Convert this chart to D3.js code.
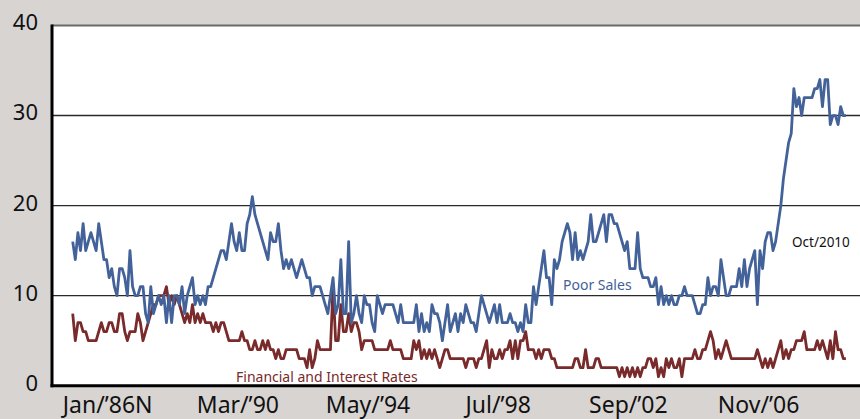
<!DOCTYPE html>
<html>
<head>
<meta charset="utf-8">
<script src="https://cdn.jsdelivr.net/npm/d3@7"></script>
<style>
  html, body { margin: 0; padding: 0; background: #d8d4d1; }
  svg { display: block; }
  text { font-family: "Noto Sans", "Open Sans", sans-serif; }
</style>
</head>
<body>
<svg id="chart" width="860" height="419"></svg>
<script>
// Monthly series, Jan 1986 .. Oct 2010 (percent)
const poorSales = [
  16,14,17,15,18,15,16,17,16,15,
  18,16,14,14,12,13,11,10,13,13,
  12,10,15,11,10,10,11,11,8,7,
  11,8,9,10,9,10,7,10,7,10,
  10,9,11,8,10,11,12,9,10,9,
  10,9,11,11,12,13,14,15,15,14,
  16,18,16,15,17,15,15,18,19,21,
  19,18,17,16,15,14,17,16,16,18,
  15,13,14,13,14,13,12,13,14,13,
  12,12,10,11,11,11,10,9,8,10,
  12,8,9,14,8,8,16,7,8,10,
  8,7,10,9,9,7,6,10,9,8,
  9,9,9,9,8,7,9,7,7,7,
  7,7,9,6,8,6,7,6,9,8,
  8,7,5,7,9,6,7,8,6,8,
  7,9,8,7,7,6,8,10,9,8,
  7,8,9,7,9,7,7,7,8,7,
  7,6,7,6,9,7,7,11,9,11,
  13,15,12,12,9,14,13,14,16,17,
  18,17,14,17,14,15,14,15,16,19,
  16,16,17,18,19,16,19,19,18,18,
  17,16,15,16,13,13,13,17,13,12,
  12,12,11,11,12,9,11,9,10,9,
  10,9,9,10,10,11,10,10,10,9,
  8,8,9,9,12,10,11,11,10,14,
  12,10,10,11,11,11,13,11,14,11,
  13,14,15,9,15,13,16,17,17,15,
  16,18,20,23,25,27,28,33,31,32,
  30,32,32,32,32,33,33,34,31,34,
  34,29,30,30,29,31,30,30
];
const financialRates = [
  8,5,7,7,6,6,5,5,5,5,
  6,7,6,6,7,7,6,6,8,8,
  6,5,6,6,6,8,7,5,6,7,
  8,9,9,10,10,10,11,9,10,9,
  10,9,8,7,8,7,9,7,8,7,
  8,7,7,7,6,7,6,7,7,6,
  5,5,5,5,5,6,5,5,4,4,
  5,4,4,5,4,5,4,4,3,4,
  3,3,4,4,4,4,4,3,3,3,
  2,4,2,3,5,4,4,4,4,4,
  11,5,5,9,6,6,8,6,7,7,
  6,4,5,5,5,5,4,4,4,4,
  4,4,5,4,4,4,4,3,3,3,
  3,5,4,5,3,4,3,4,3,4,
  3,2,3,4,4,3,3,3,3,3,
  3,2,3,3,3,2,3,3,4,5,
  2,4,3,3,4,3,4,4,5,3,
  5,3,5,5,6,4,4,4,3,4,
  3,4,4,4,3,3,2,2,2,2,
  2,2,2,3,3,2,2,4,2,2,
  2,3,3,2,2,2,2,2,2,2,
  1,2,1,2,1,2,1,2,1,2,
  2,3,3,2,3,1,2,1,3,2,
  3,2,2,3,1,3,3,3,3,4,
  3,3,4,4,5,6,5,3,4,3,
  4,5,4,3,3,3,3,3,3,3,
  3,3,3,4,3,2,3,2,3,2,
  3,4,5,3,4,3,4,4,5,5,
  5,6,4,4,4,4,5,4,5,4,
  3,5,3,6,4,4,3,3
];
const xTickIndex = [0, 50, 100, 150, 200, 250];
const xTickLabels = ["Jan/\u201986N", "Mar/\u201990", "May/\u201994", "Jul/\u201998", "Sep/\u201902", "Nov/\u201906"];
const yTicks = [0, 10, 20, 30, 40];
const seriesLabels = { sales: "Poor Sales", fin: "Financial and Interest Rates", last: "Oct/2010" };

const W = 860, H = 419;
const plot = { left: 52, right: 860, top: 25.5, bottom: 385.7 };
const svg = d3.select("#chart");

const x = d3.scaleLinear().domain([0, poorSales.length - 1]).range([72.7, 845.9]);
const y = d3.scaleLinear().domain([0, 40]).range([plot.bottom, plot.top]);

// background
svg.append("rect").attr("width", W).attr("height", H).attr("fill", "#d8d4d1");
svg.append("rect").attr("x", plot.left).attr("y", plot.top)
  .attr("width", plot.right - plot.left).attr("height", plot.bottom - plot.top)
  .attr("fill", "#ffffff");

// gridlines
svg.append("g").selectAll("line").data([10, 20, 30]).join("line")
  .attr("x1", plot.left).attr("x2", plot.right)
  .attr("y1", d => y(d)).attr("y2", d => y(d))
  .attr("stroke", "#2a2a2a").attr("stroke-width", 1.4);
svg.append("line").attr("x1", plot.left).attr("x2", plot.right)
  .attr("y1", y(40)).attr("y2", y(40))
  .attr("stroke", "#6a6a6a").attr("stroke-width", 2);

// y tick labels
svg.append("g").selectAll("text").data(yTicks).join("text")
  .attr("x", 38).attr("y", d => y(d) - 3)
  .attr("dy", "0.36em").attr("text-anchor", "end")
  .attr("font-size", 22).attr("fill", "#111")
  .text(d => d);

// lines
const line = d3.line().x((d, i) => x(i)).y(d => y(d));
svg.append("path").datum(financialRates).attr("d", line)
  .attr("fill", "none").attr("stroke", "#792a2a").attr("stroke-width", 2.8)
  .attr("stroke-linejoin", "round");
svg.append("path").datum(poorSales).attr("d", line)
  .attr("fill", "none").attr("stroke", "#43629a").attr("stroke-width", 2.8)
  .attr("stroke-linejoin", "round");

// axes lines
svg.append("line").attr("x1", plot.left).attr("x2", plot.left)
  .attr("y1", plot.top - 1).attr("y2", plot.bottom + 1.5)
  .attr("stroke", "#000").attr("stroke-width", 3);
svg.append("line").attr("x1", plot.left - 1.5).attr("x2", plot.right)
  .attr("y1", plot.bottom).attr("y2", plot.bottom)
  .attr("stroke", "#000").attr("stroke-width", 3);

// x tick labels
svg.append("g").selectAll("text").data(xTickIndex).join("text")
  .attr("x", d => x(d) + 35).attr("y", 413)
  .attr("text-anchor", "middle").attr("font-size", 23).attr("fill", "#111")
  .text((d, i) => xTickLabels[i]);

// annotations
svg.append("text").attr("x", 563).attr("y", 290).attr("font-size", 14)
  .attr("fill", "#43629a").text(seriesLabels.sales);
svg.append("text").attr("x", 236).attr("y", 382).attr("font-size", 14)
  .attr("fill", "#792a2a").text(seriesLabels.fin);
svg.append("text").attr("x", 792).attr("y", 247).attr("font-size", 13.5)
  .attr("fill", "#111").text(seriesLabels.last);
</script>
</body>
</html>
